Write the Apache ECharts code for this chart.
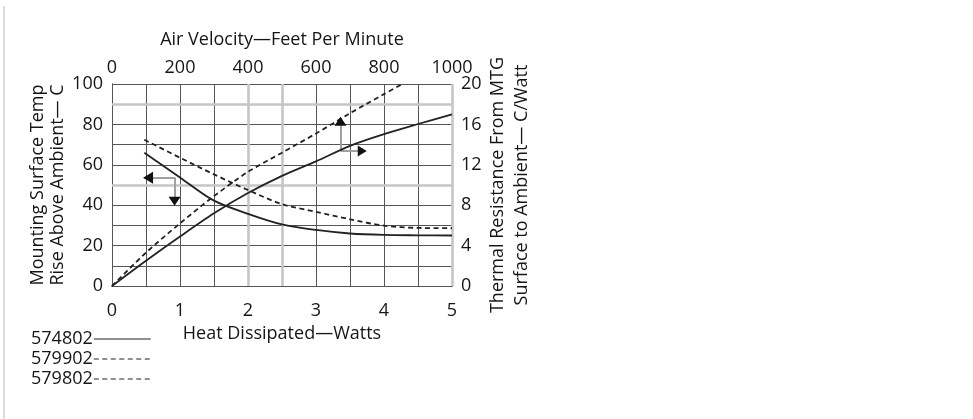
<!DOCTYPE html>
<html>
<head>
<meta charset="utf-8">
<script src="https://cdn.jsdelivr.net/npm/echarts@6/dist/echarts.min.js"></script>
<style>
  html, body { margin: 0; padding: 0; background: #fff; }
  #chart { width: 973px; height: 419px; }
</style>
</head>
<body>
<div id="chart"></div>
<script>
// ---- Data ----
// Bottom axis: Heat Dissipated (Watts) vs left axis: Mounting surface temp rise (C)
const watts574802 = [0, 0.5, 1, 1.5, 2, 2.5, 3, 3.5, 4, 4.5, 5];
const temp574802  = [0, 12.5, 24.5, 36, 46, 54.5, 61.7, 69.4, 75.2, 80.2, 85];
const watts579902 = [0, 0.5, 1, 1.5, 2, 2.5, 3, 3.5, 4, 4.27];
const temp579902  = [0, 16.5, 31, 44.5, 56.5, 66, 75.5, 85.5, 95, 100];
// Top axis: Air velocity (FPM) vs right axis: Thermal resistance (C/Watt)
const fpm574802 = [95, 200, 300, 400, 500, 600, 700, 800, 900, 1000];
const res574802 = [13.2, 10.75, 8.45, 7.15, 6.1, 5.55, 5.2, 5.06, 5.02, 5.0];
const fpm579902 = [95, 200, 300, 400, 500, 600, 700, 800, 900, 1000];
const res579902 = [14.48, 12.7, 11.05, 9.5, 8.1, 7.35, 6.6, 5.98, 5.75, 5.72];
const seriesNames = ['574802', '579902', '579802'];
// Tick labels
const bottomTicks = [0, 1, 2, 3, 4, 5];
const topTicks = [0, 200, 400, 600, 800, 1000];
const leftTicks = [0, 20, 40, 60, 80, 100];
const rightTicks = [0, 4, 8, 12, 16, 20];

// ---- Annotation arrows (in Watts / temp coordinates) ----
const arrowLines = [
  [[0.47, 53.6], [0.93, 53.6]],
  [[0.93, 53.6], [0.93, 42]],
  [[3.36, 81], [3.36, 66.8]],
  [[3.36, 66.8], [3.66, 66.8]]
];
const arrowHeads = [
  { at: [0.53, 53.6], rot: 90, size: [12, 10] },
  { at: [0.92, 41.9], rot: 180, size: [12, 9] },
  { at: [3.36, 81.5], rot: 0, size: [12, 9] },
  { at: [3.68, 66.8], rot: -90, size: [11, 9] }
];
const grayGrid = { y: [50, 90], x: [2, 2.5, 5] };

const FONT = 'Open Sans';
const FS = 18;
const TXT = '#161616';
const GRID = '#555';
const CURVE = '#222';

function pairs(xs, ys) { return xs.map((x, i) => [x, ys[i]]); }

const chart = echarts.init(document.getElementById('chart'), null, { renderer: 'canvas' });

const grayMark = [];
grayGrid.y.forEach(v => grayMark.push({ yAxis: v, lineStyle: { color: '#c6c6c6', width: 2.6, type: 'solid' } }));
grayGrid.x.forEach(v => grayMark.push({ xAxis: v, lineStyle: { color: '#c6c6c6', width: 2.6, type: 'solid' } }));
arrowLines.forEach(seg => grayMark.push([
  { coord: seg[0], lineStyle: { color: '#a0a0a0', width: 2, type: 'solid' } },
  { coord: seg[1] }
]));

const option = {
  animation: false,
  textStyle: { fontFamily: FONT, color: TXT },
  graphic: [
    { type: 'rect', left: 3, top: 6, shape: { width: 2, height: 413 }, style: { fill: '#d9dce8' }, silent: true }
  ],
  grid: { left: 112, right: 521, top: 84, bottom: 133, containLabel: false },
  legend: {
    orient: 'vertical',
    left: 26,
    top: 325,
    align: 'right',
    itemWidth: 57,
    itemHeight: 12,
    itemGap: 2,
    data: seriesNames,
    itemStyle: { opacity: 0 },
    lineStyle: { width: 1.2 },
    textStyle: { fontFamily: FONT, fontSize: FS, color: TXT, lineHeight: 17, padding: [0, -4, 0, 0] },
    selectedMode: false
  },
  xAxis: [
    {
      type: 'value', position: 'bottom', min: 0, max: 5, interval: 0.5,
      name: 'Heat Dissipated—Watts', nameLocation: 'middle', nameGap: 39,
      nameTextStyle: { fontFamily: FONT, fontSize: FS, color: TXT },
      axisLine: { show: true, lineStyle: { color: GRID, width: 1 } },
      axisTick: { show: false },
      axisLabel: {
        margin: 16, fontFamily: FONT, fontSize: FS, color: TXT,
        formatter: v => bottomTicks.includes(v) ? String(v) : ''
      },
      splitLine: { show: true, lineStyle: { color: GRID, width: 1 } }
    },
    {
      type: 'value', position: 'top', min: 0, max: 1000, interval: 200,
      name: 'Air Velocity—Feet Per Minute', nameLocation: 'middle', nameGap: 35,
      nameTextStyle: { fontFamily: FONT, fontSize: FS, color: TXT },
      axisLine: { show: true, lineStyle: { color: GRID, width: 1 } },
      axisTick: { show: false },
      axisLabel: {
        margin: 7, fontFamily: FONT, fontSize: FS, color: TXT,
        formatter: v => topTicks.includes(v) ? String(v) : ''
      },
      splitLine: { show: false }
    }
  ],
  yAxis: [
    {
      type: 'value', position: 'left', min: 0, max: 100, interval: 10,
      name: 'Mounting Surface Temp\nRise Above Ambient— C', nameLocation: 'middle', nameRotate: 90, nameGap: 35,
      nameTextStyle: { fontFamily: FONT, fontSize: FS, color: TXT, lineHeight: 20 },
      axisLine: { show: true, lineStyle: { color: GRID, width: 1 } },
      axisTick: { show: false },
      axisLabel: {
        margin: 9, fontFamily: FONT, fontSize: FS, color: TXT,
        formatter: v => leftTicks.includes(v) ? String(v) : ''
      },
      splitLine: { show: true, lineStyle: { color: GRID, width: 1 } }
    },
    {
      type: 'value', position: 'right', min: 0, max: 20, interval: 2,
      name: 'Thermal Resistance From MTG\nSurface to Ambient— C/Watt', nameLocation: 'middle', nameRotate: 90, nameGap: 27,
      nameTextStyle: { fontFamily: FONT, fontSize: FS, color: TXT, lineHeight: 24 },
      axisLine: { show: true, lineStyle: { color: GRID, width: 1 } },
      axisTick: { show: false },
      axisLabel: {
        margin: 9, fontFamily: FONT, fontSize: FS, color: TXT,
        formatter: v => rightTicks.includes(v) ? String(v) : ''
      },
      splitLine: { show: false }
    }
  ],
  series: [
    {
      name: seriesNames[0], type: 'line', xAxisIndex: 0, yAxisIndex: 0,
      data: pairs(watts574802, temp574802), symbol: 'none', smooth: 0.3,
      lineStyle: { color: CURVE, width: 1.8, type: 'solid' }, itemStyle: { color: CURVE },
      z: 3,
      markLine: {
        silent: true, symbol: 'none', label: { show: false }, z: 1,
        data: grayMark
      },
      markPoint: {
        silent: true, label: { show: false },
        itemStyle: { color: '#111' },
        data: arrowHeads.map(h => ({ coord: h.at, symbol: 'triangle', symbolSize: h.size, symbolRotate: h.rot }))
      }
    },
    {
      name: seriesNames[0], type: 'line', xAxisIndex: 1, yAxisIndex: 1,
      data: pairs(fpm574802, res574802), symbol: 'none', smooth: 0.3,
      lineStyle: { color: CURVE, width: 1.8, type: 'solid' }, itemStyle: { color: CURVE }, z: 3
    },
    {
      name: seriesNames[1], type: 'line', xAxisIndex: 0, yAxisIndex: 0,
      data: pairs(watts579902, temp579902), symbol: 'none', smooth: 0.3,
      lineStyle: { color: CURVE, width: 1.8, type: [5, 3.5] }, itemStyle: { color: CURVE }, z: 3
    },
    {
      name: seriesNames[1], type: 'line', xAxisIndex: 1, yAxisIndex: 1,
      data: pairs(fpm579902, res579902), symbol: 'none', smooth: 0.3,
      lineStyle: { color: CURVE, width: 1.8, type: [5, 3.5] }, itemStyle: { color: CURVE }, z: 3
    },
    {
      name: seriesNames[2], type: 'line', xAxisIndex: 0, yAxisIndex: 0,
      data: [], symbol: 'none',
      lineStyle: { color: CURVE, width: 1.8, type: [5, 3.5] }, itemStyle: { color: CURVE }
    }
  ]
};
chart.setOption(option);
</script>
</body>
</html>
